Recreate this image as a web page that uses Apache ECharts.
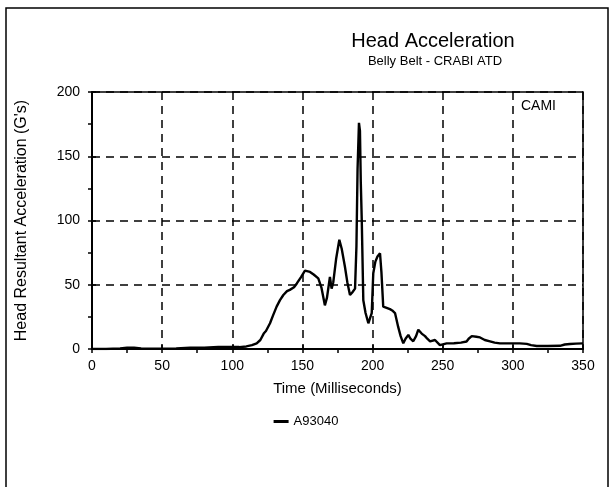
<!DOCTYPE html>
<html>
<head>
<meta charset="utf-8">
<script src="https://cdn.jsdelivr.net/npm/echarts@6/dist/echarts.min.js"></script>
<style>html,body{margin:0;padding:0;background:#fff}#c{width:612px;height:487px}</style>
</head>
<body>
<div id="c"></div>
<script>
var titleText = "Head Acceleration";
var subtitleText = "Belly Belt - CRABI ATD";
var xName = "Time (Milliseconds)";
var yName = "Head Resultant Acceleration (G's)";
var seriesName = "A93040";
var noteText = "CAMI";
var times = [0, 10, 20, 25, 30, 35, 40, 50, 60, 70, 80, 90, 100, 105, 110, 114, 117.4, 120, 122.4, 124, 126.9, 129, 131.6, 134, 136.4, 139, 141, 144, 146, 149, 151.8, 155.4, 158, 161.3, 163.5, 166, 167.5, 169.6, 170.8, 172, 174, 176.3, 178, 180.3, 182, 183.9, 185.5, 187.5, 188.5, 189.3, 190.3, 191, 191.6, 192.3, 193.4, 195, 197, 198.2, 199.4, 200.5, 202, 203.5, 205.3, 206.3, 207.6, 210, 212.4, 214, 216, 218.3, 220, 221.9, 223.5, 225.5, 227, 229, 231, 232.6, 235, 237.4, 239, 241, 244.5, 248, 252.8, 258, 263, 267, 268.5, 270.7, 274, 276.6, 280, 283.7, 287, 290.8, 295, 300.3, 305, 309.9, 313, 317, 325, 333.6, 337, 340.7, 345, 350];
var values = [0, 0, 0.5, 1, 1, 0.5, 0.3, 0.3, 0.5, 1, 1, 1.5, 1.5, 1.5, 2, 3, 4.4, 7, 12, 14, 20, 26, 33, 38, 42, 45, 46, 48, 51, 56, 61, 60, 58, 55, 48, 34, 40, 56, 47, 52, 70, 85, 78, 64, 52, 42, 44, 47, 80, 140, 176, 170, 130, 100, 38, 28, 20, 24, 28, 59, 68, 72, 74.5, 60, 33, 32, 31, 30, 28, 17, 10, 4.4, 8, 11, 8, 6, 10, 15, 12, 10, 8, 6, 7, 3, 4.4, 4.5, 5, 5.8, 8, 10, 9.5, 9, 7, 6, 5, 4.4, 4.4, 4.4, 4.4, 4, 3, 2.3, 2.3, 2.5, 3.5, 3.9, 4.2, 4.4];
var xTicks = [0, 50, 100, 150, 200, 250, 300, 350];
var yTicks = [0, 50, 100, 150, 200];

var data = times.map(function (t, i) { return [t, values[i]]; });
var font = "'Liberation Sans', Arial, sans-serif";
var tickStyle = { color: '#000', width: 1.5 };
function innerAxis(base, pos) {
  return Object.assign({}, base, {
    position: pos, name: '', axisLabel: { show: false }, splitLine: { show: false },
    axisLine: { show: false },
    axisTick: { show: true, inside: true, length: 4, lineStyle: tickStyle },
    minorTick: { show: true, splitNumber: 2, length: -4, lineStyle: tickStyle }
  });
}
var xBase = { type: 'value', min: xTicks[0], max: xTicks[xTicks.length - 1], interval: 50 };
var yBase = { type: 'value', min: yTicks[0], max: yTicks[yTicks.length - 1], interval: 50 };
var chart = echarts.init(document.getElementById('c'));
chart.setOption({
  animation: false,
  backgroundColor: '#fff',
  textStyle: { fontFamily: font, color: '#000' },
  title: [
    { text: titleText, left: 428, top: 26, textAlign: 'center',
      textStyle: { fontFamily: font, fontSize: 20, fontWeight: 'normal', color: '#000' } },
    { text: subtitleText, left: 430, top: 50, textAlign: 'center',
      textStyle: { fontFamily: font, fontSize: 13, fontWeight: 'normal', color: '#000' } }
  ],
  legend: {
    data: [seriesName], left: 'center', top: 410, itemWidth: 15, itemHeight: 3, itemGap: 3,
    icon: 'rect', textStyle: { fontFamily: font, fontSize: 13, color: '#000' }
  },
  graphic: [
    { type: 'rect', shape: { x: 6, y: 8, width: 602, height: 500 },
      style: { fill: 'none', stroke: '#000', lineWidth: 1.5 }, silent: true },
    { type: 'text', left: 521, top: 99,
      style: { text: noteText, fontFamily: font, fontSize: 14, fill: '#000' } }
  ],
  grid: { left: 92, right: 29, top: 92, bottom: 138, show: true, borderColor: '#000', borderWidth: 1.5, backgroundColor: 'transparent' },
  xAxis: [Object.assign({}, xBase, {
    position: 'bottom',
    name: xName, nameLocation: 'middle', nameGap: 32,
    nameTextStyle: { fontFamily: font, fontSize: 15, color: '#000' },
    axisLine: { show: true, onZero: false, lineStyle: { color: '#000', width: 2 } },
    axisTick: { show: true, length: 4, lineStyle: tickStyle },
    minorTick: { show: true, splitNumber: 2, length: 4, lineStyle: tickStyle },
    axisLabel: { fontFamily: font, fontSize: 14, color: '#000', margin: 10 },
    splitLine: { show: true, lineStyle: { color: '#000', width: 1.5, type: [8, 6] } }
  }), innerAxis(xBase, 'bottom')],
  yAxis: [Object.assign({}, yBase, {
    position: 'left',
    name: yName, nameLocation: 'middle', nameGap: 62, nameRotate: 90,
    nameTextStyle: { fontFamily: font, fontSize: 16, color: '#000' },
    axisLine: { show: true, onZero: false, lineStyle: { color: '#000', width: 2 } },
    axisTick: { show: true, length: 4, lineStyle: tickStyle },
    minorTick: { show: true, splitNumber: 2, length: 4, lineStyle: tickStyle },
    axisLabel: { fontFamily: font, fontSize: 14, color: '#000', margin: 12 },
    splitLine: { show: true, lineStyle: { color: '#000', width: 1.5, type: [8, 6] } }
  }), innerAxis(yBase, 'left')],
  series: [{
    name: seriesName, type: 'line', data: data, showSymbol: false, symbol: 'none',
    lineStyle: { color: '#000', width: 2.4 }, itemStyle: { color: '#000' }
  }]
});
</script>
</body>
</html>
